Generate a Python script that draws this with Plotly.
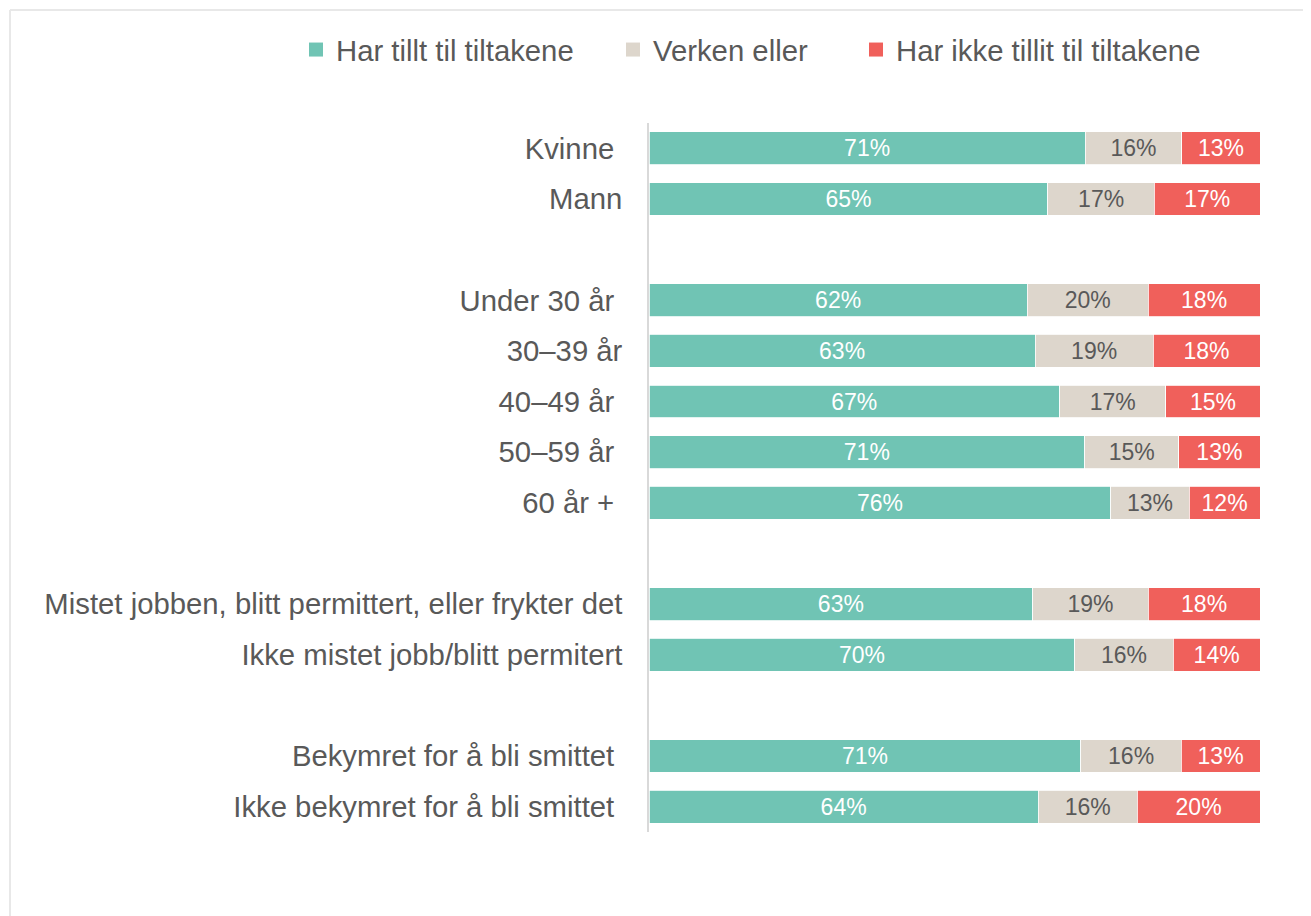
import plotly.graph_objects as go

# categories (blank spacer rows give the gaps between groups)
categories = [
    "Kvinne\u00a0",
    "Mann",
    "\u00a0",
    "Under 30 år\u00a0",
    "30–39 år",
    "40–49 år\u00a0",
    "50–59 år\u00a0",
    "60 år +\u00a0",
    "\u00a0\u00a0",
    "Mistet jobben, blitt permittert, eller frykter det",
    "Ikke mistet jobb/blitt permitert",
    "\u00a0\u00a0\u00a0",
    "Bekymret for å bli smittet\u00a0",
    "Ikke bekymret for å bli smittet\u00a0",
]

# shares in percent, estimated from the bars
tillit = [71.4, 65.3, None, 61.9, 63.2, 67.2, 71.3, 75.6, None, 62.8, 69.7, None, 70.7, 63.7]
verken = [15.8, 17.4, None, 19.8, 19.3, 17.4, 15.4, 12.8, None, 18.9, 16.1, None, 16.4, 16.2]
ikke_tillit = [12.8, 17.3, None, 18.3, 17.5, 15.4, 13.3, 11.6, None, 18.3, 14.2, None, 12.9, 20.1]

series = [
    ("Har tillt til tiltakene", tillit, "#70C4B4", "white"),
    ("Verken eller", verken, "#DDD6CC", "#595959"),
    ("Har ikke tillit til tiltakene", ikke_tillit, "#F0605B", "white"),
]

# page body adds an 8px offset, so the figure is 8px smaller than the window
W, H = 1303, 908
L, R, T, B = 641, 51, 115, 84
pw, ph = W - L - R, H - T - B

legend_x = [288, 605, 848]

fig = go.Figure()
for i, (name, vals, color, txtcolor) in enumerate(series):
    fig.add_trace(
        go.Bar(
            name=name,
            y=categories,
            x=vals,
            orientation="h",
            marker=dict(color=color, line=dict(color="white", width=0.8)),
            texttemplate="%{x:.0f}%",
            textposition="inside",
            insidetextanchor="middle",
            textangle=0,
            constraintext="none",
            textfont=dict(size=23, color=txtcolor),
            width=0.65,
            showlegend=False,
            hoverinfo="name+x",
        )
    )
    # legend entry with a bigger square swatch
    fig.add_trace(
        go.Scatter(
            name=name,
            x=[None],
            y=[None],
            mode="markers",
            marker=dict(symbol="square", size=14, color=color),
            legend="legend" if i == 0 else f"legend{i + 1}",
            showlegend=True,
            hoverinfo="skip",
        )
    )

legend_style = dict(
    orientation="h",
    yanchor="middle",
    xanchor="left",
    y=(H - B - 42) / ph,
    font=dict(size=29.3, color="#595959"),
    bgcolor="rgba(0,0,0,0)",
    borderwidth=0,
    itemsizing="trace",
    visible=True,
)

fig.update_layout(
    width=W,
    height=H,
    barmode="stack",
    showlegend=True,
    margin=dict(l=L, r=R, t=T, b=B),
    plot_bgcolor="white",
    paper_bgcolor="white",
    font=dict(family="Liberation Sans, Arial, sans-serif", size=29.3, color="#595959"),
    legend=dict(legend_style, x=(legend_x[0] - L) / pw),
    legend2=dict(legend_style, x=(legend_x[1] - L) / pw),
    legend3=dict(legend_style, x=(legend_x[2] - L) / pw),
    xaxis=dict(range=[0, 100], visible=False, showgrid=False, zeroline=False),
    yaxis=dict(
        categoryorder="array",
        categoryarray=categories,
        autorange="reversed",
        showgrid=False,
        zeroline=False,
        showline=True,
        linecolor="#D9D9D9",
        linewidth=1.5,
        ticks="",
        ticklabelstandoff=19,
        tickfont=dict(size=29.3, color="#595959"),
    ),
    shapes=[
        dict(
            type="line", xref="paper", yref="paper",
            x0=(2 - L) / pw, x1=(W + 5 - L) / pw,
            y0=(H - B - 2) / ph, y1=(H - B - 2) / ph,
            line=dict(color="#E8E8E8", width=2),
        ),
        dict(
            type="line", xref="paper", yref="paper",
            x0=(2 - L) / pw, x1=(2 - L) / pw,
            y0=(H - B - 2) / ph, y1=(-B - 5) / ph,
            line=dict(color="#E8E8E8", width=2),
        ),
    ],
)

fig.write_html("out.html")
